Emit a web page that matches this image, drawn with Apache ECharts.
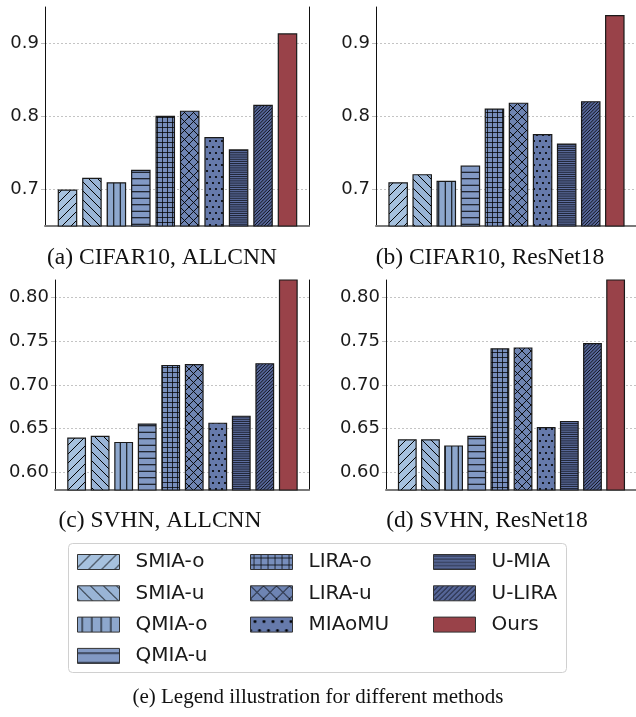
<!DOCTYPE html>
<html><head><meta charset="utf-8">
<script src="https://cdn.jsdelivr.net/npm/echarts@6/dist/echarts.min.js"></script>
<style>html,body{margin:0;padding:0;background:#fff}#c{width:636px;height:717px}</style>
</head><body><div id="c"></div>
<script>
// ---------------- data ----------------
const methods = ['SMIA-o','SMIA-u','QMIA-o','QMIA-u','LIRA-o','LIRA-u','MIAoMU','U-MIA','U-LIRA','Ours'];
const cifarAllcnn = [0.700,0.716,0.710,0.727,0.801,0.808,0.772,0.755,0.816,0.914];
const cifarResnet = [0.710,0.721,0.712,0.733,0.811,0.819,0.776,0.763,0.821,0.939];
const svhnAllcnn  = [0.640,0.642,0.635,0.656,0.723,0.724,0.657,0.665,0.725,0.870];
const svhnResnet  = [0.638,0.638,0.631,0.642,0.742,0.743,0.652,0.659,0.748,0.870];
const cifarTicks = [0.7,0.8,0.9];
const svhnTicks = [0.60,0.65,0.70,0.75,0.80];
const captions = ['(a) CIFAR10, ALLCNN','(b) CIFAR10, ResNet18','(c) SVHN, ALLCNN','(d) SVHN, ResNet18'];
const legendCaption = '(e) Legend illustration for different methods';

// ---------------- styles ----------------
const colors = ['#a6c1de','#99b4d6','#8da7cd','#8299c4','#778ebc','#6e84b3','#667aab','#5d6ea0','#556597','#994249'];
const hatches = ['/','\\','|','-','+','x','.','---','///',''];

function makePattern(bg, hatch, k) {
  const defs = {
    '/':  {T:9,  n:1, w:1},   '\\': {T:9, n:1, w:1}, '|': {T:13, n:2, w:1}, '-': {T:13, n:2, w:1},
    '+':  {T:5,  n:1, w:0.75}, 'x': {T:9, n:1, w:0.9}, '.': {T:6, n:1, w:1}, '---': {T:13, n:6, w:0.7},
    '///':{T:10, n:3, w:0.8}, '': {T:8, n:1, w:1}
  };
  const d = defs[hatch];
  const T = Math.max(2, Math.round(d.T * k));
  const n = d.n;
  const c = document.createElement('canvas');
  const H = hatch === '.' ? 2 * T : T;
  c.width = T; c.height = H;
  const g = c.getContext('2d');
  g.fillStyle = bg; g.fillRect(0, 0, T, H);
  g.strokeStyle = '#000'; g.fillStyle = '#000'; g.lineWidth = d.w;
  const s = T / n;
  function diagF() { // '/'
    g.beginPath();
    for (let j = -1; j <= 2 * n + 1; j++) {
      const cc = j * s;
      g.moveTo(cc + 3, -3); g.lineTo(cc - T - 3, T + 3);
    }
    g.stroke();
  }
  function diagB() { // '\'
    g.beginPath();
    for (let j = -n - 1; j <= n + 1; j++) {
      const cc = j * s;
      g.moveTo(cc - 3, -3); g.lineTo(cc + T + 3, T + 3);
    }
    g.stroke();
  }
  function vert() { g.beginPath(); for (let j = 0; j < n; j++) { const x = (j + 0.5) * s; g.moveTo(x, 0); g.lineTo(x, H); } g.stroke(); }
  function horz() { g.beginPath(); for (let j = 0; j < n; j++) { const y = (j + 0.5) * s; g.moveTo(0, y); g.lineTo(T, y); } g.stroke(); }
  if (hatch === '/' || hatch === '///') diagF();
  else if (hatch === '\\') diagB();
  else if (hatch === '|') vert();
  else if (hatch === '-' || hatch === '---') horz();
  else if (hatch === '+') { vert(); horz(); }
  else if (hatch === 'x') { diagF(); diagB(); }
  else if (hatch === '.') {
    const r = 1.1 * Math.max(1, k * 0.9);
    [[T/2, T/2],[0, 1.5*T],[T, 1.5*T]].forEach(p => { g.beginPath(); g.arc(p[0], p[1], r, 0, Math.PI*2); g.fill(); });
  }
  return {image: c, repeat: 'repeat'};
}
const barPatterns = methods.map((m, i) => hatches[i] ? makePattern(colors[i], hatches[i], 1) : colors[i]);
const legendPatterns = methods.map((m, i) => hatches[i] ? makePattern(colors[i], hatches[i], 1.45) : colors[i]);

// ---------------- layout ----------------
const panels = [
  {vals: cifarAllcnn, ticks: cifarTicks, dec: 1, min: 0.65, max: 0.95, left: 45,  top: 7,   width: 264, height: 219},
  {vals: cifarResnet, ticks: cifarTicks, dec: 1, min: 0.65, max: 0.95, left: 376, top: 7,   width: 264, height: 219},
  {vals: svhnAllcnn,  ticks: svhnTicks,  dec: 2, min: 0.58, max: 0.82, left: 55,  top: 280, width: 254, height: 210},
  {vals: svhnResnet,  ticks: svhnTicks,  dec: 2, min: 0.58, max: 0.82, left: 386, top: 280, width: 254, height: 210}
];
const xMin = -0.92, xMax = 9.88;
const font = 'DejaVu Sans';

const grid = [], xAxis = [], yAxis = [], series = [];
panels.forEach((p, pi) => {
  grid.push({left: p.left, top: p.top, width: p.width, height: p.height, containLabel: false});
  xAxis.push({type: 'value', gridIndex: pi, min: xMin, max: xMax,
    axisLine: {show: true, onZero: false, lineStyle: {color: '#7a7a7a', width: 2}},
    axisTick: {show: false}, axisLabel: {show: false}, splitLine: {show: false}});
  yAxis.push({type: 'value', gridIndex: pi, min: p.min, max: p.max, position: 'left',
    axisLine: {show: true, onZero: false, lineStyle: {color: '#111', width: 1}},
    axisTick: {show: true, length: 4, customValues: p.ticks, lineStyle: {color: '#bbb'}},
    axisLabel: {show: true, customValues: p.ticks, formatter: v => Number(v).toFixed(p.dec),
      fontSize: 18, fontFamily: font, color: '#1a1a1a', margin: 6},
    splitLine: {show: true, lineStyle: {color: '#c4c4c4', width: 1, type: [2, 2]}}});
});
panels.forEach((p, pi) => {
  yAxis.push({type: 'value', gridIndex: pi, min: 0, max: 1, position: 'right',
    axisLine: {show: true, onZero: false, lineStyle: {color: '#111', width: 1}},
    axisTick: {show: false}, axisLabel: {show: false}, splitLine: {show: false}});
});
panels.forEach((p, pi) => {
  const bw = p.width / (xMax - xMin) * 0.8;
  methods.forEach((m, i) => {
    series.push({type: 'bar', name: m, xAxisIndex: pi, yAxisIndex: pi,
      data: [[i, p.vals[i]]], barWidth: bw, barGap: '-100%', clip: true, silent: true,
      itemStyle: {color: barPatterns[i], borderColor: '#1a1a1a', borderWidth: 1.2}});
  });
});

const legendCols = [[0,1,2,3],[4,5,6],[7,8,9]];
const legendLefts = [77, 250, 433];
const legend = legendCols.map((col, ci) => ({
  data: col.map(i => ({name: methods[i], itemStyle: {color: legendPatterns[i], borderColor: '#333', borderWidth: 1}})),
  orient: 'vertical', left: legendLefts[ci], top: 552, padding: 0,
  itemWidth: 42, itemHeight: 15, itemGap: 11.3, icon: 'rect', selectedMode: false, z: 10,
  textStyle: {fontSize: 20, fontFamily: font, color: '#1a1a1a', padding: [0, 0, 0, 11]}
}));

const capPos = [[162, 258], [490, 258], [160, 521], [487, 521]];
const graphic = [
  {type: 'rect', z: 1, shape: {x: 68.5, y: 543.5, width: 498, height: 129, r: 4},
   style: {fill: '#fff', stroke: '#d0d0d0', lineWidth: 1}}
];
captions.forEach((t, i) => graphic.push({type: 'text', x: capPos[i][0], y: capPos[i][1], z: 5,
  style: {text: t, font: '23.5px "Liberation Serif"', fill: '#111', textAlign: 'center', textVerticalAlign: 'middle'}}));
graphic.push({type: 'text', x: 318, y: 697, z: 5,
  style: {text: legendCaption, font: '21px "Liberation Serif"', fill: '#111', textAlign: 'center', textVerticalAlign: 'middle'}});

const chart = echarts.init(document.getElementById('c'), null, {renderer: 'canvas'});
chart.setOption({animation: false, backgroundColor: '#fff', grid, xAxis, yAxis, series, legend, graphic});
</script></body></html>
